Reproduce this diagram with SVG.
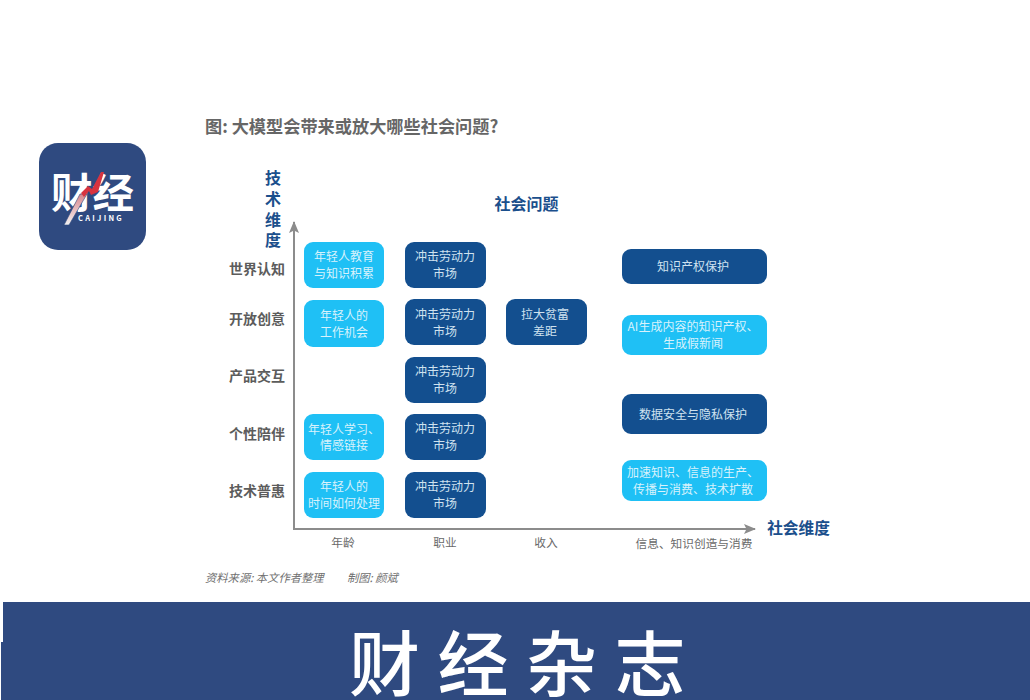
<svg xmlns="http://www.w3.org/2000/svg" width="1030" height="700" viewBox="0 0 1030 700">
<style>
text{font-family:"Noto Sans CJK SC","Liberation Sans",sans-serif}
.l{fill:#1fc0f5}
.d{fill:#134f8f}
.bt{font-size:12px;fill:#cfe2ef;text-anchor:middle}
.l+.bt{fill:#d8f2fc}
.row{font-size:14px;font-weight:700;fill:#5c5c5c;text-anchor:end}
.col{font-size:11.7px;fill:#6a6a6a;text-anchor:middle}
.h{font-weight:700;fill:#1b4f8c}
.ax{stroke:#8c8c8c;stroke-width:2;fill:none}
.src{font-size:11.3px;font-style:italic;fill:#707070}
</style>
<defs>
<marker id="ah" viewBox="0 0 12 10" refX="11" refY="5" markerWidth="12" markerHeight="10" markerUnits="userSpaceOnUse" orient="auto"><path d="M0 0L12 5L0 10L2.5 5Z" fill="#8c8c8c"/></marker>
<linearGradient id="sl" x1="0" y1="0" x2="0" y2="1"><stop offset="0" stop-color="#d9868c"/><stop offset="1" stop-color="#f2f2f2"/></linearGradient>
</defs>
<rect width="1030" height="700" fill="#fff"/>
<g id="logo">
<rect x="39" y="143" width="107" height="107" rx="19" fill="#2f4a80"/>
<text x="51" y="208" font-size="41" font-weight="700" fill="#fff" textLength="83" lengthAdjust="spacingAndGlyphs">财经</text>
<path d="M80 194L87 194L69 225L64 225Z" fill="url(#sl)" stroke="#2f4a80" stroke-width=".6"/>
<path d="M101 172L104 172L98 192L91 195L89 191L84 197L81 193L88 186L92 189Z" fill="#d8333f"/>
<text x="78" y="221" font-size="7.5" font-weight="700" fill="#fff" letter-spacing="2.3">CAIJING</text>
</g>
<text id="title" x="205" y="133" font-size="17.2" font-weight="700" fill="#666">图: 大模型会带来或放大哪些社会问题?</text>
<g id="connectors">
<path class="ax" d="M294 529V222" marker-end="url(#ah)"/>
<path class="ax" d="M293 529H755" marker-end="url(#ah)"/>
</g>
<g id="labels">
<text class="h" font-size="16" text-anchor="middle"><tspan x="273" y="184">技</tspan><tspan x="273" y="205">术</tspan><tspan x="273" y="226">维</tspan><tspan x="273" y="246">度</tspan></text>
<text class="h" x="526.5" y="210" font-size="16" text-anchor="middle">社会问题</text>
<text class="h" x="798.5" y="534" font-size="15.7" text-anchor="middle">社会维度</text>
<text class="row" x="285" y="274">世界认知</text>
<text class="row" x="285" y="324">开放创意</text>
<text class="row" x="285" y="381">产品交互</text>
<text class="row" x="285" y="439">个性陪伴</text>
<text class="row" x="285" y="496">技术普惠</text>
<text class="col" x="343" y="547">年龄</text>
<text class="col" x="445" y="547">职业</text>
<text class="col" x="546" y="547">收入</text>
<text class="col" x="694" y="548">信息、知识创造与消费</text>
<text class="src" x="205" y="582">资料来源: 本文作者整理</text>
<text class="src" x="347" y="582">制图: 颜斌</text>
</g>
<g id="n1"><rect class="l" x="304" y="242" width="80" height="46" rx="9"/><text class="bt"><tspan x="344" y="261">年轻人教育</tspan><tspan x="344" y="278">与知识积累</tspan></text></g>
<g id="n2"><rect class="l" x="304" y="300" width="80" height="47" rx="9"/><text class="bt"><tspan x="344" y="320">年轻人的</tspan><tspan x="344" y="337">工作机会</tspan></text></g>
<g id="n3"><rect class="l" x="304" y="414" width="80" height="46" rx="9"/><text class="bt"><tspan x="344" y="434">年轻人学习、</tspan><tspan x="344" y="450">情感链接</tspan></text></g>
<g id="n4"><rect class="l" x="304" y="472" width="80" height="46" rx="9"/><text class="bt"><tspan x="344" y="491">年轻人的</tspan><tspan x="344" y="508">时间如何处理</tspan></text></g>
<g id="n5"><rect class="d" x="405" y="242" width="81" height="46" rx="9"/><text class="bt"><tspan x="445" y="261">冲击劳动力</tspan><tspan x="445" y="278">市场</tspan></text></g>
<g id="n6"><rect class="d" x="405" y="299" width="81" height="46" rx="9"/><text class="bt"><tspan x="445" y="319">冲击劳动力</tspan><tspan x="445" y="336">市场</tspan></text></g>
<g id="n7"><rect class="d" x="405" y="357" width="81" height="46" rx="9"/><text class="bt"><tspan x="445" y="376">冲击劳动力</tspan><tspan x="445" y="393">市场</tspan></text></g>
<g id="n8"><rect class="d" x="405" y="414" width="81" height="46" rx="9"/><text class="bt"><tspan x="445" y="433">冲击劳动力</tspan><tspan x="445" y="450">市场</tspan></text></g>
<g id="n9"><rect class="d" x="405" y="472" width="81" height="46" rx="9"/><text class="bt"><tspan x="445" y="491">冲击劳动力</tspan><tspan x="445" y="508">市场</tspan></text></g>
<g id="n10"><rect class="d" x="506" y="299" width="81" height="46" rx="9"/><text class="bt"><tspan x="545" y="319">拉大贫富</tspan><tspan x="545" y="336">差距</tspan></text></g>
<g id="n11"><rect class="d" x="622" y="249" width="145" height="35" rx="9"/><text class="bt" x="693" y="271">知识产权保护</text></g>
<g id="n12"><rect class="l" x="622" y="315" width="145" height="40" rx="9"/><text class="bt"><tspan x="693" y="331">AI生成内容的知识产权、</tspan><tspan x="693" y="348">生成假新闻</tspan></text></g>
<g id="n13"><rect class="d" x="622" y="394" width="145" height="40" rx="9"/><text class="bt" x="693" y="419">数据安全与隐私保护</text></g>
<g id="n14"><rect class="l" x="622" y="460" width="145" height="41" rx="9"/><text class="bt"><tspan x="693" y="477">加速知识、信息的生产、</tspan><tspan x="693" y="494">传播与消费、技术扩散</tspan></text></g>
<g id="banner">
<rect x="3" y="602" width="1027" height="98" fill="#2f4a80"/>
<rect x="1" y="642" width="2" height="58" fill="#2f4a80"/>
<text x="349" y="690" font-size="71" font-weight="500" fill="#fff" letter-spacing="17.5">财经杂志</text>
</g>
</svg>
